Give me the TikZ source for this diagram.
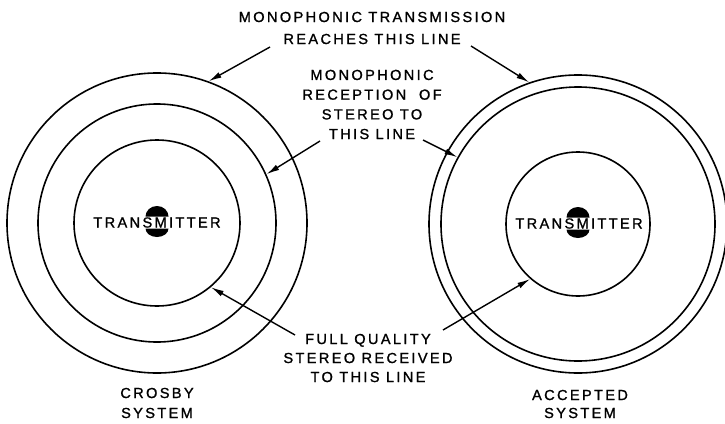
\documentclass[tikz,border=0pt]{standalone}
\usepackage{fontspec}
\setmainfont{Liberation Sans}[LetterSpace=16,FakeBold=1.2]
\usetikzlibrary{arrows.meta,calc}

\begin{document}
\begin{tikzpicture}[x=1pt,y=-1pt,
  ring/.style={circle,draw,line width=1.6pt,inner sep=0pt,minimum size=#1},
  lbl/.style={align=center,inner sep=0pt,font=\fontsize{14.6}{#1}\selectfont},
  lbl/.default=19.5,
  pointer/.style={line width=1.4pt,-{Latex[length=13pt,width=6pt]}},
  dome/.style={fill=black},
]
\useasboundingbox (0,0) rectangle (725,423);

% ---- Crosby system: three coverage rings ----
\node[ring=166pt] (L1) at (157,223) {};
\node[ring=238pt] (L2) at (157,223) {};
\node[ring=300pt] (L3) at (157,223) {};

% ---- Accepted system: inner ring and two close outer rings ----
\node[ring=144pt] (R1) at (578,224) {};
\node[ring=274pt] (R2) at (578,224) {};
\node[ring=298pt] (R3) at (578,224) {};

% ---- transmitter symbols: split black disc behind the lettering ----
\fill[dome] (145.5,216.5) arc[start angle=180,end angle=360,x radius=11.5,y radius=10.5] -- cycle;
\fill[dome] (145.5,228.5) arc[start angle=180,end angle=0,x radius=11.5,y radius=8.5] -- cycle;
\node[lbl] (txL) at (157,222.5) {TRANSMITTER};

\fill[dome] (566.5,217.5) arc[start angle=180,end angle=360,x radius=11.5,y radius=10.5] -- cycle;
\fill[dome] (566.5,229.5) arc[start angle=180,end angle=0,x radius=11.5,y radius=8.5] -- cycle;
\node[lbl] (txR) at (579,223.5) {TRANSMITTER};

% ---- labels ----
\node[lbl=22] (top) at (372,28) {MONOPHONIC TRANSMISSION\\REACHES THIS LINE};
\node[lbl=19.7] (mid) at (372,104.5) {MONOPHONIC\\RECEPTION\ \ OF\\STEREO TO\\THIS LINE};
\node[lbl=19] (low) at (368,358) {FULL QUALITY\\STEREO RECEIVED\\TO THIS LINE};
\node[lbl=20] (capL) at (157,403) {CROSBY\\SYSTEM};
\node[lbl=18] (capR) at (580,404) {ACCEPTED\\SYSTEM};

% ---- leader start points beside the labels ----
\coordinate (sTL) at (270,47);
\coordinate (sTR) at (471,46);
\coordinate (sML) at (320,141);
\coordinate (sMR) at (423,140);
\coordinate (sBL) at (295,335);
\coordinate (sBR) at (443,330);

% ---- leaders ----
\draw[pointer] (sTL) -- (L3.70);
\draw[pointer] (sTR) -- (R3.109);
\draw[pointer] (sML) -- (L2.24);
\draw[pointer] (sMR) -- (R2.151);
\draw[pointer] (sBL) -- (L1.-50);
\draw[pointer] (sBR) -- (R1.229);
\end{tikzpicture}
\end{document}
